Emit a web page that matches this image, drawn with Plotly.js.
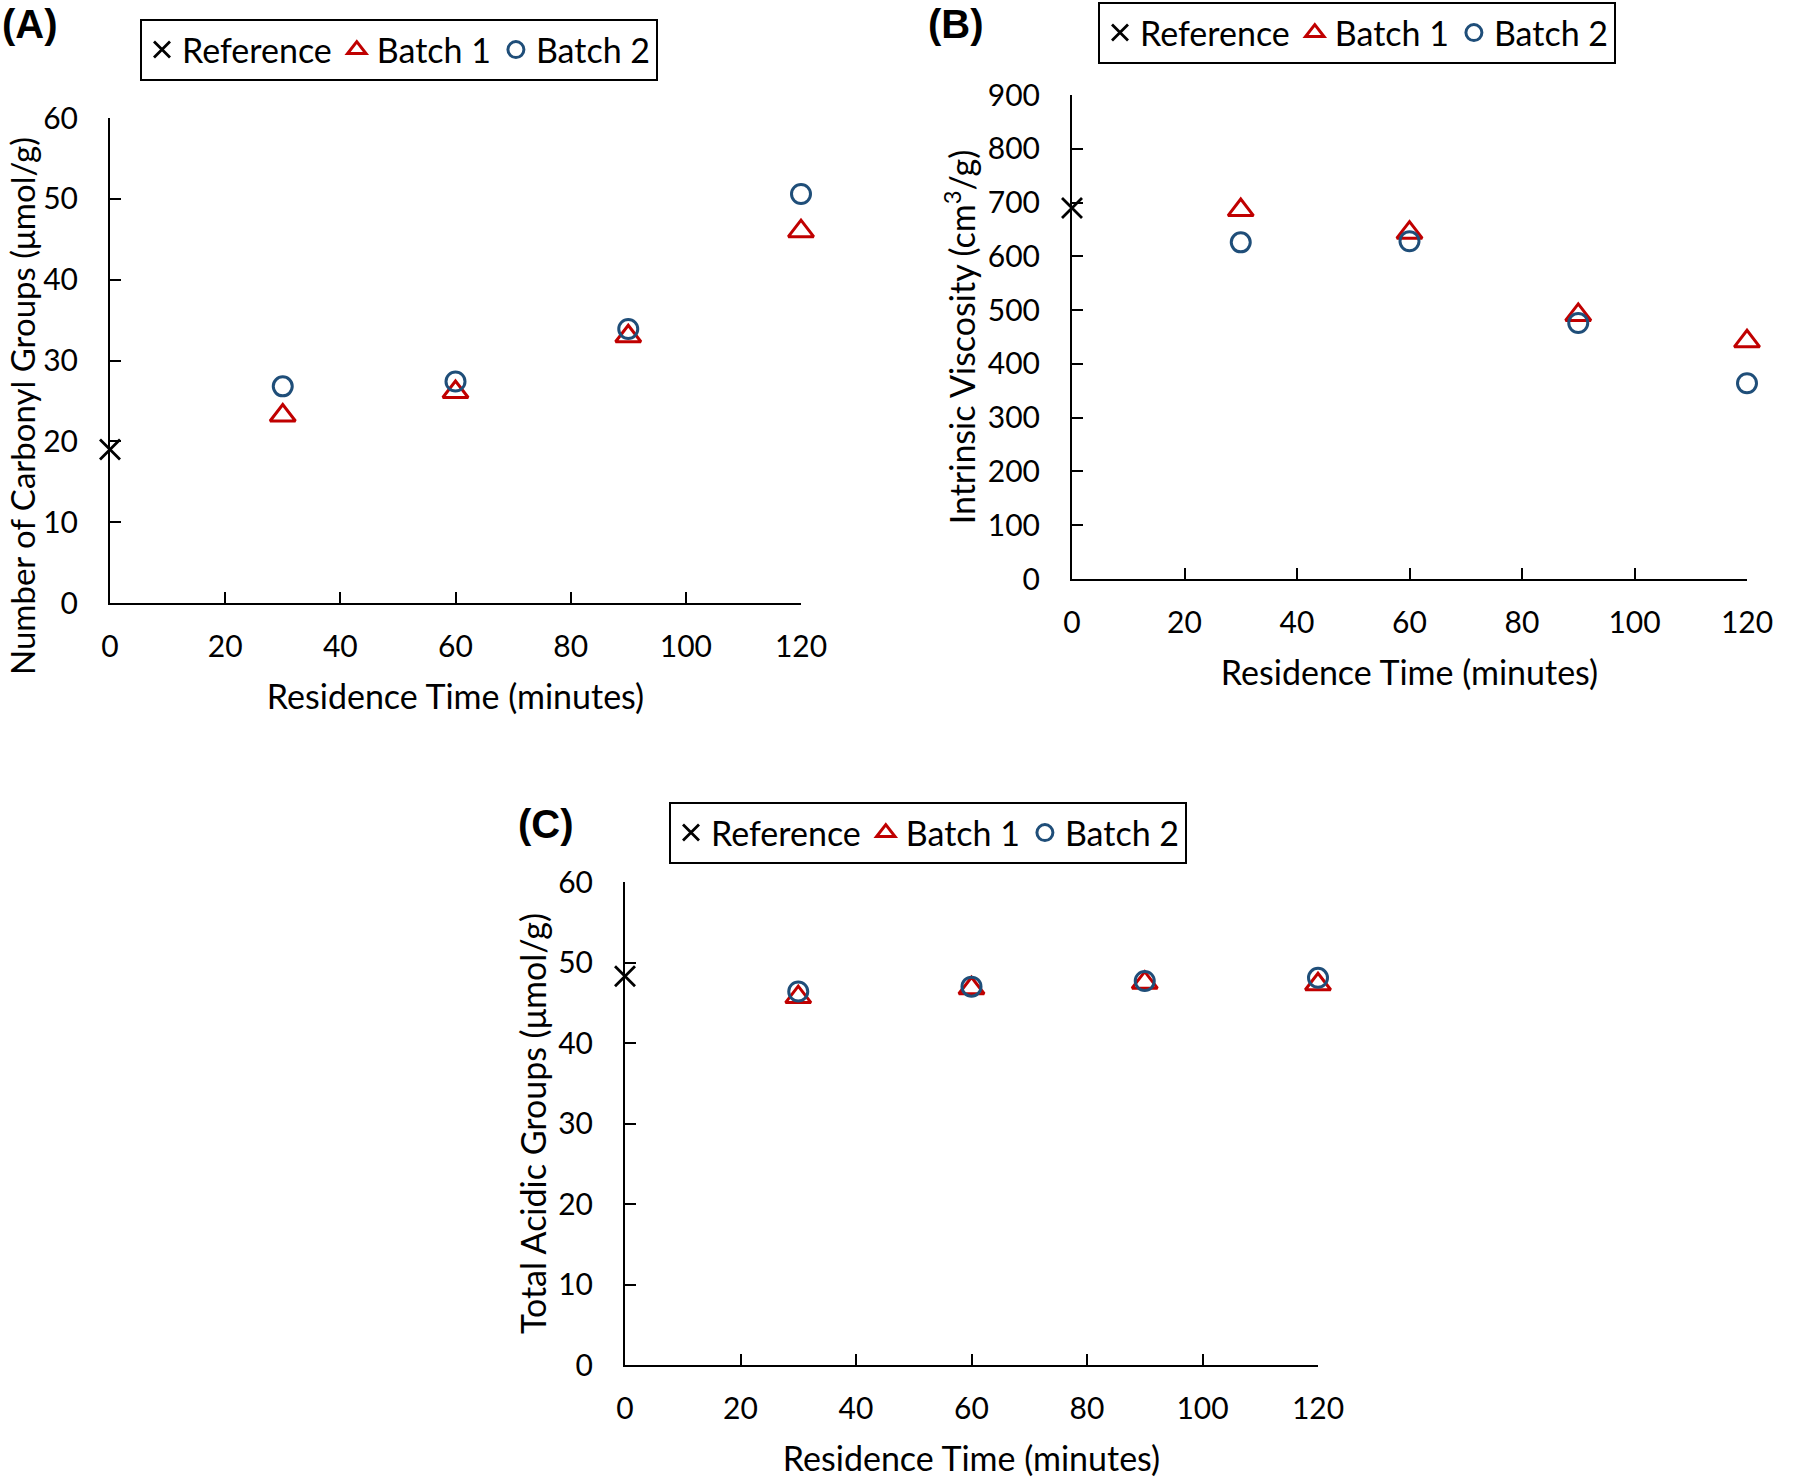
<!DOCTYPE html>
<html>
<head>
<meta charset="utf-8">
<script src="https://cdn.plot.ly/plotly-3.0.1.min.js"></script>
<style>html,body{margin:0;padding:0;background:#fff;}#chart{width:1796px;height:1478px;}</style>
</head>
<body>
<div id="chart"></div>
<script>
// ---- data ----
const residenceTime = [30, 60, 90, 120];
const referenceTime = [0];

// (A) Number of Carbonyl Groups (umol/g)
const carbonylReference = [19.0];
const carbonylBatch1 = [23.2, 26.1, 33.0, 46.0];
const carbonylBatch2 = [26.8, 27.4, 33.9, 50.6];

// (B) Intrinsic Viscosity (cm3/g)
const viscosityReference = [690];
const viscosityBatch1 = [686, 644, 491, 442];
const viscosityBatch2 = [626, 628, 476, 364];

// (C) Total Acidic Groups (umol/g)
const acidicReference = [48.3];
const acidicBatch1 = [45.7, 46.8, 47.5, 47.3];
const acidicBatch2 = [46.4, 47.0, 47.7, 48.1];

const xTicks = [0, 20, 40, 60, 80, 100, 120];
const seriesNames = ['Reference', 'Batch 1', 'Batch 2'];

// ---- styling ----
const W = 1796, H = 1478;
const px = v => v / W;
const py = v => 1 - v / H;
const FONT = 'Lato, "Open Sans", sans-serif';
const TITLE_SIZE = 34;
const RED = '#C00000', BLUE = '#1F4E79';

function triple(xa, ya, leg, refY, b1, b2) {
  const common = {type: 'scatter', mode: 'markers', xaxis: xa, yaxis: ya, legend: leg, cliponaxis: false};
  return [
    Object.assign({}, common, {name: seriesNames[0], x: referenceTime, y: refY,
      marker: {symbol: 'x-thin-open', size: 20, color: '#000', line: {width: 2.8, color: '#000'}}}),
    Object.assign({}, common, {name: seriesNames[1], x: residenceTime, y: b1,
      marker: {symbol: 'triangle-up-open', size: 22, color: RED, line: {width: 3, color: RED}}}),
    Object.assign({}, common, {name: seriesNames[2], x: residenceTime, y: b2,
      marker: {symbol: 'circle-open', size: 19, color: BLUE, line: {width: 3, color: BLUE}}})
  ];
}

const data = [].concat(
  triple('x', 'y', 'legend', carbonylReference, carbonylBatch1, carbonylBatch2),
  triple('x2', 'y2', 'legend2', viscosityReference, viscosityBatch1, viscosityBatch2),
  triple('x3', 'y3', 'legend3', acidicReference, acidicBatch1, acidicBatch2)
);

function xAxis(domain, anchor, title) {
  return {domain: domain, anchor: anchor, range: [0, 120], tickvals: xTicks, showline: true, linecolor: '#000', linewidth: 2,
    ticks: 'inside', ticklen: 11, tickwidth: 2, tickcolor: '#000', showgrid: false, zeroline: false,
    ticklabelstandoff: 16, tickfont: {family: FONT, size: 30, color: '#000'},
    title: {text: title, font: {family: FONT, size: TITLE_SIZE, color: '#000'}, standoff: 23}};
}
function yAxis(domain, anchor, range, dtick, title, standoff) {
  const ax = {domain: domain, anchor: anchor, range: range, dtick: dtick, showline: true, linecolor: '#000', linewidth: 2,
    ticks: 'inside', ticklen: 11, tickwidth: 2, tickcolor: '#000', showgrid: false, zeroline: false,
    ticklabelstandoff: 24, tickfont: {family: FONT, size: 30, color: '#000'}};
  if (title) ax.title = {text: title, font: {family: FONT, size: TITLE_SIZE, color: '#000'}, standoff: standoff};
  return ax;
}
function legendAt(x, y) {
  return {x: px(x), y: py(y), xanchor: 'left', yanchor: 'top', orientation: 'h', bordercolor: '#000', borderwidth: 2,
    bgcolor: '#fff', font: {family: FONT, size: 34, color: '#000'}, itemwidth: 30, tracegroupgap: 0};
}

const labelFont = {family: '"Liberation Sans", Arial, sans-serif', size: 40, color: '#000'};

const layout = {
  width: W, height: H, margin: {l: 0, r: 0, t: 0, b: 0}, paper_bgcolor: '#fff', plot_bgcolor: '#fff',
  showlegend: true,
  xaxis: xAxis([px(110), px(801)], 'y', 'Residence Time (minutes)'),
  yaxis: yAxis([py(603), py(118)], 'x', [0, 60], 10, null, 0),
  xaxis2: xAxis([px(1072), px(1747)], 'y2', 'Residence Time (minutes)'),
  yaxis2: yAxis([py(579), py(95)], 'x2', [0, 900], 100, 'Intrinsic Viscosity (cm<sup>3</sup>/g)', 2),
  xaxis3: xAxis([px(625), px(1318)], 'y3', 'Residence Time (minutes)'),
  yaxis3: yAxis([py(1365), py(882)], 'x3', [0, 60], 10, 'Total Acidic Groups (μmol/g)', 1),
  legend: legendAt(140, 19),
  legend2: legendAt(1098, 2),
  legend3: legendAt(669, 802),
  annotations: [
    {text: 'Number of Carbonyl Groups (μmol/g)', xref: 'paper', yref: 'paper', x: px(22), y: py(406), textangle: -90,
      showarrow: false, xanchor: 'center', yanchor: 'middle', borderpad: 0, font: {family: FONT, size: 33, color: '#000'}},
    {text: '<b>(A)</b>', xref: 'paper', yref: 'paper', x: px(0), y: py(24), showarrow: false, xanchor: 'left', yanchor: 'middle', font: labelFont},
    {text: '<b>(B)</b>', xref: 'paper', yref: 'paper', x: px(926), y: py(24), showarrow: false, xanchor: 'left', yanchor: 'middle', font: labelFont},
    {text: '<b>(C)</b>', xref: 'paper', yref: 'paper', x: px(516), y: py(824), showarrow: false, xanchor: 'left', yanchor: 'middle', font: labelFont}
  ]
};

Plotly.newPlot('chart', data, layout, {displayModeBar: false, staticPlot: true});
</script>
</body>
</html>
